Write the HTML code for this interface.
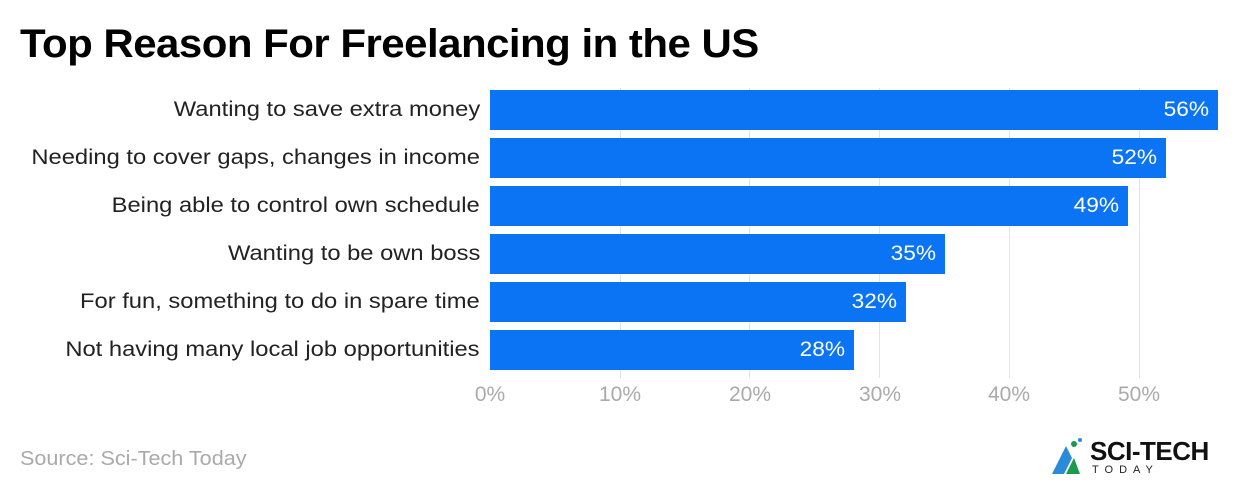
<!DOCTYPE html>
<html><head><style>
body{margin:0;width:1240px;height:492px;background:#fff;font-family:"Liberation Sans",sans-serif;position:relative;overflow:hidden}
.t{position:absolute;left:20px;top:22px;font-size:40px;font-weight:bold;color:#000;letter-spacing:-0.5px;transform:scaleX(1.05);transform-origin:left}
.lab{position:absolute;right:760px;font-size:21px;color:#222;white-space:nowrap;line-height:40px;transform:scaleX(1.13);transform-origin:right}
.bar{position:absolute;left:490px;height:40px;background:#0a74f4}
.v{position:absolute;right:9px;top:0;line-height:40px;color:#fff;font-size:21px;transform:scaleX(1.08);transform-origin:right}
.g{position:absolute;top:88px;height:290px;width:1px;background:#e4e4e4}
.tk{position:absolute;top:383px;font-size:21px;color:#aaa;width:80px;text-align:center}
.src{position:absolute;left:20px;top:448px;font-size:20px;color:#aaa;transform:scaleX(1.08);transform-origin:left}
</style></head><body>
<div class="t">Top Reason For Freelancing in the US</div>
<div class="g" style="left:620px"></div><div class="g" style="left:749px"></div><div class="g" style="left:879px"></div><div class="g" style="left:1009px"></div><div class="g" style="left:1139px"></div>
<div class="lab" style="top:90px">Wanting to save extra money</div>
<div class="lab" style="top:138px">Needing to cover gaps, changes in income</div>
<div class="lab" style="top:186px">Being able to control own schedule</div>
<div class="lab" style="top:234px">Wanting to be own boss</div>
<div class="lab" style="top:282px">For fun, something to do in spare time</div>
<div class="lab" style="top:330px">Not having many local job opportunities</div>
<div class="bar" style="top:90px;width:728px"><span class="v">56%</span></div>
<div class="bar" style="top:138px;width:676px"><span class="v">52%</span></div>
<div class="bar" style="top:186px;width:638px"><span class="v">49%</span></div>
<div class="bar" style="top:234px;width:455px"><span class="v">35%</span></div>
<div class="bar" style="top:282px;width:416px"><span class="v">32%</span></div>
<div class="bar" style="top:330px;width:364px"><span class="v">28%</span></div>
<div class="tk" style="left:450px">0%</div><div class="tk" style="left:580px">10%</div><div class="tk" style="left:710px">20%</div><div class="tk" style="left:840px">30%</div><div class="tk" style="left:969px">40%</div><div class="tk" style="left:1099px">50%</div>
<div class="src">Source: Sci-Tech Today</div>
<svg style="position:absolute;left:1050px;top:436px" width="40" height="40"><polygon points="2,38 16,10 22,22 14,38" fill="#2a8bd8"/><polygon points="16,38 24,22 30,38" fill="#1a9a4a"/><circle cx="24" cy="8" r="3" fill="#1a9a4a"/><circle cx="30" cy="4" r="2" fill="#2a8bd8"/></svg>
<div style="position:absolute;left:1090px;top:436px;font-size:26px;font-weight:bold;color:#111;letter-spacing:-0.5px">SCI-TECH</div>
<div style="position:absolute;left:1092px;top:464px;font-size:11px;color:#222;letter-spacing:6px">TODAY</div>
</body></html>
